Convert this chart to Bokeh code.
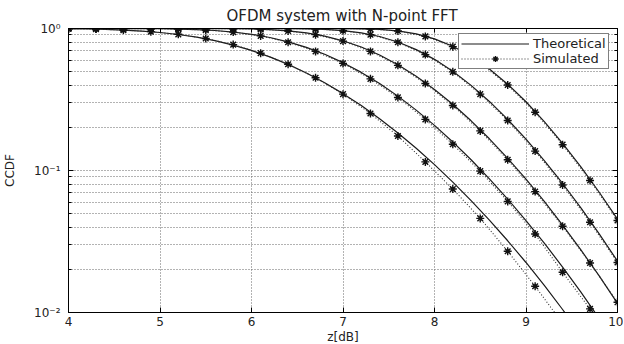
from bokeh.plotting import figure
from bokeh.models import (FixedTicker, CustomJSTickFormatter, Legend, LegendItem,
                          LinearAxis, LogAxis)
from bokeh.embed import file_html
from bokeh.resources import INLINE

# ---------------- data ----------------
x_theory = [4.0, 4.2, 4.4, 4.6, 4.8, 5.0, 5.2, 5.4, 5.6, 5.8, 6.0, 6.2, 6.4, 6.6, 6.8,
            7.0, 7.2, 7.4, 7.6, 7.8, 8.0, 8.2, 8.4, 8.6, 8.8, 9.0, 9.2, 9.4, 9.6, 9.8, 10.0]

theory_n64 = [0.9955, 0.9917, 0.9852, 0.9748, 0.9593, 0.9372, 0.9073, 0.8686, 0.8206, 0.7643,
              0.7007, 0.6313, 0.5592, 0.4860, 0.4152, 0.3478, 0.2864, 0.2316, 0.1839, 0.1434,
              0.1100, 0.0829, 0.0614, 0.0447, 0.0320, 0.0225, 0.0155, 0.0105, 0.0070, 0.00455, 0.00291]
theory_n128 = [1.0, 0.9999, 0.9998, 0.9994, 0.9983, 0.9961, 0.9914, 0.9827, 0.9678, 0.9444,
               0.9104, 0.8641, 0.8057, 0.7358, 0.6580, 0.5747, 0.4907, 0.4095, 0.3340, 0.2662,
               0.2078, 0.1589, 0.1190, 0.0874, 0.0629, 0.0444, 0.0308, 0.0209, 0.0139, 0.00907, 0.00579]
theory_n256 = [1.0, 1.0, 1.0, 1.0, 1.0, 1.0, 0.9999, 0.9997, 0.9990, 0.9969,
               0.9920, 0.9815, 0.9623, 0.9302, 0.8831, 0.8191, 0.7407, 0.6513, 0.5564, 0.4616,
               0.3724, 0.2926, 0.2238, 0.1672, 0.1218, 0.0869, 0.0606, 0.0413, 0.0276, 0.0181, 0.0116]
theory_n512 = [1.0, 1.0, 1.0, 1.0, 1.0, 1.0, 1.0, 1.0, 1.0, 1.0,
               1.0, 0.9997, 0.9986, 0.9951, 0.9863, 0.9673, 0.9328, 0.8784, 0.8033, 0.7101,
               0.6062, 0.4995, 0.3976, 0.3064, 0.2289, 0.1662, 0.1175, 0.0810, 0.0545, 0.0358, 0.0230]
theory_n1024 = [1.0, 1.0, 1.0, 1.0, 1.0, 1.0, 1.0, 1.0, 1.0, 1.0,
                1.0, 1.0, 1.0, 1.0, 0.9998, 0.9989, 0.9955, 0.9852, 0.9613, 0.9159,
                0.8449, 0.7495, 0.6372, 0.5189, 0.4054, 0.3048, 0.2212, 0.1554, 0.1060, 0.0703, 0.0454]

x_sim = [4.0, 4.3, 4.6, 4.9, 5.2, 5.5, 5.8, 6.1, 6.4, 6.7, 7.0,
         7.3, 7.6, 7.9, 8.2, 8.5, 8.8, 9.1, 9.4, 9.7, 10.0]

sim_n64 = [1.0, 0.99, 0.975, 0.95, 0.91, 0.85, 0.77, 0.67, 0.56, 0.45, 0.345,
           0.252, 0.175, 0.115, 0.074, 0.046, 0.027, 0.0153, 0.0084, 0.0043, 0.0021]
sim_n128 = [1.0, 1.0, 0.999, 0.997, 0.99, 0.975, 0.943, 0.887, 0.80, 0.69, 0.568,
            0.442, 0.327, 0.229, 0.153, 0.099, 0.0606, 0.0357, 0.0192, 0.0106, 0.0054]
sim_n256 = [1.0, 1.0, 1.0, 1.0, 1.0, 0.999, 0.997, 0.987, 0.96, 0.905, 0.815,
            0.69, 0.55, 0.41, 0.287, 0.19, 0.119, 0.071, 0.0405, 0.0223, 0.0118]
sim_n512 = [1.0, 1.0, 1.0, 1.0, 1.0, 1.0, 1.0, 1.0, 0.998, 0.991, 0.965,
            0.905, 0.80, 0.655, 0.495, 0.345, 0.225, 0.137, 0.079, 0.0432, 0.0225]
sim_n1024 = [1.0, 1.0, 1.0, 1.0, 1.0, 1.0, 1.0, 1.0, 1.0, 1.0, 0.999,
             0.991, 0.96, 0.88, 0.745, 0.57, 0.40, 0.257, 0.152, 0.085, 0.0445]

x_ticks = [4, 5, 6, 7, 8, 9, 10]
y_ticks = [0.01, 0.1, 1.0]
y_minor_ticks = [0.02, 0.03, 0.04, 0.05, 0.06, 0.07, 0.08, 0.09,
                 0.2, 0.3, 0.4, 0.5, 0.6, 0.7, 0.8, 0.9]

title_text = "OFDM system with N-point FFT"
x_label = "z[dB]"
y_label = "CCDF"
legend_labels = ["Theoretical", "Simulated"]

theory_series = [theory_n64, theory_n128, theory_n256, theory_n512, theory_n1024]
sim_series = [sim_n64, sim_n128, sim_n256, sim_n512, sim_n1024]

# ---------------- figure ----------------
FONT = "DejaVu Sans"

p = figure(frame_width=549, frame_height=284,
           x_range=(4, 10), y_range=(0.01, 1), y_axis_type="log",
           output_backend="svg", toolbar_location=None,
           min_border_left=68, min_border_top=27, min_border_right=6, min_border_bottom=0,
           title=title_text)

p.title.align = "left"
p.title.text_font = FONT
p.title.text_font_size = "15px"
p.title.text_font_style = "normal"
p.title.text_color = "#222222"
p.title.standoff = 8
p.title.offset = 158

p.outline_line_color = "black"
p.outline_line_width = 1
p.background_fill_color = "white"
p.border_fill_color = "white"

xt = FixedTicker(ticks=x_ticks)
yt = FixedTicker(ticks=y_ticks, minor_ticks=y_minor_ticks)

p.xaxis.ticker = xt
p.yaxis.ticker = yt
p.yaxis.formatter = CustomJSTickFormatter(code="""
    const e = Math.round(Math.log10(tick));
    const sup = {"0": "\u2070", "-1": "\u207b\u00b9", "-2": "\u207b\u00b2"};
    return "10" + sup[String(e)];
""")

for ax in (p.xaxis, p.yaxis):
    ax.major_tick_in = 5
    ax.major_tick_out = 0
    ax.minor_tick_out = 0
    ax.axis_line_color = "black"
    ax.major_tick_line_color = "black"
    ax.minor_tick_line_color = "black"
    ax.major_label_text_font = FONT
    ax.major_label_text_font_size = "12px"
    ax.major_label_text_color = "#222222"
    ax.axis_label_text_font = FONT
    ax.axis_label_text_font_size = "12px"
    ax.axis_label_text_font_style = "normal"
    ax.axis_label_text_color = "#222222"

p.xaxis.minor_tick_in = 0
p.yaxis.minor_tick_in = 3
p.xaxis.axis_label = x_label
p.yaxis.axis_label = y_label
p.xaxis.major_label_standoff = 4
p.xaxis.axis_label_standoff = 1
p.yaxis.major_label_standoff = 8
p.yaxis.axis_label_standoff = 14

# top / right tick-only axes (MATLAB box style)
top_ax = LinearAxis(ticker=xt, major_tick_in=4, major_tick_out=0, minor_tick_in=0,
                    minor_tick_out=0, major_label_standoff=0,
                    formatter=CustomJSTickFormatter(code="return ''"),
                    major_label_text_font_size="1px", axis_line_color="black")
right_ax = LogAxis(ticker=yt, major_tick_in=5, major_tick_out=0, minor_tick_in=3,
                   minor_tick_out=0, major_label_standoff=0,
                   formatter=CustomJSTickFormatter(code="return ''"),
                   major_label_text_font_size="1px", axis_line_color="black")
p.add_layout(top_ax, "above")
p.add_layout(right_ax, "right")

# grid
p.xgrid.grid_line_color = "#666666"
p.xgrid.grid_line_dash = "1 2"
p.xgrid.grid_line_width = 1
p.ygrid.grid_line_color = "#666666"
p.ygrid.grid_line_dash = "1 2"
p.ygrid.minor_grid_line_color = "#666666"
p.ygrid.minor_grid_line_dash = "1 2"

# ---------------- curves ----------------
theo_renderers = []
sim_line_renderers = []
sim_marker_renderers = []
for th, sm in zip(theory_series, sim_series):
    r1 = p.line(x_theory, th, line_color="#1a1a1a", line_width=1.2)
    r2 = p.line(x_sim, sm, line_color="#333333", line_width=1.1, line_dash="1 2")
    r3 = p.scatter(x_sim, sm, marker="asterisk", size=8, line_color="#111111", line_width=1.4)
    theo_renderers.append(r1)
    sim_line_renderers.append(r2)
    sim_marker_renderers.append(r3)

legend = Legend(items=[
    LegendItem(label=legend_labels[0], renderers=[theo_renderers[0]]),
    LegendItem(label=legend_labels[1], renderers=[sim_line_renderers[0], sim_marker_renderers[0]]),
], location=(390, 243))
legend.border_line_color = "black"
legend.border_line_width = 1
legend.background_fill_color = "white"
legend.background_fill_alpha = 1.0
legend.label_text_font = FONT
legend.label_text_font_size = "13px"
legend.label_text_color = "#222222"
legend.padding = 2
legend.spacing = 0
legend.margin = 0
legend.label_height = 14
legend.glyph_height = 15
legend.glyph_width = 68
legend.label_standoff = 4
p.add_layout(legend, "center")

open("out.html", "w").write(file_html(p, INLINE))
